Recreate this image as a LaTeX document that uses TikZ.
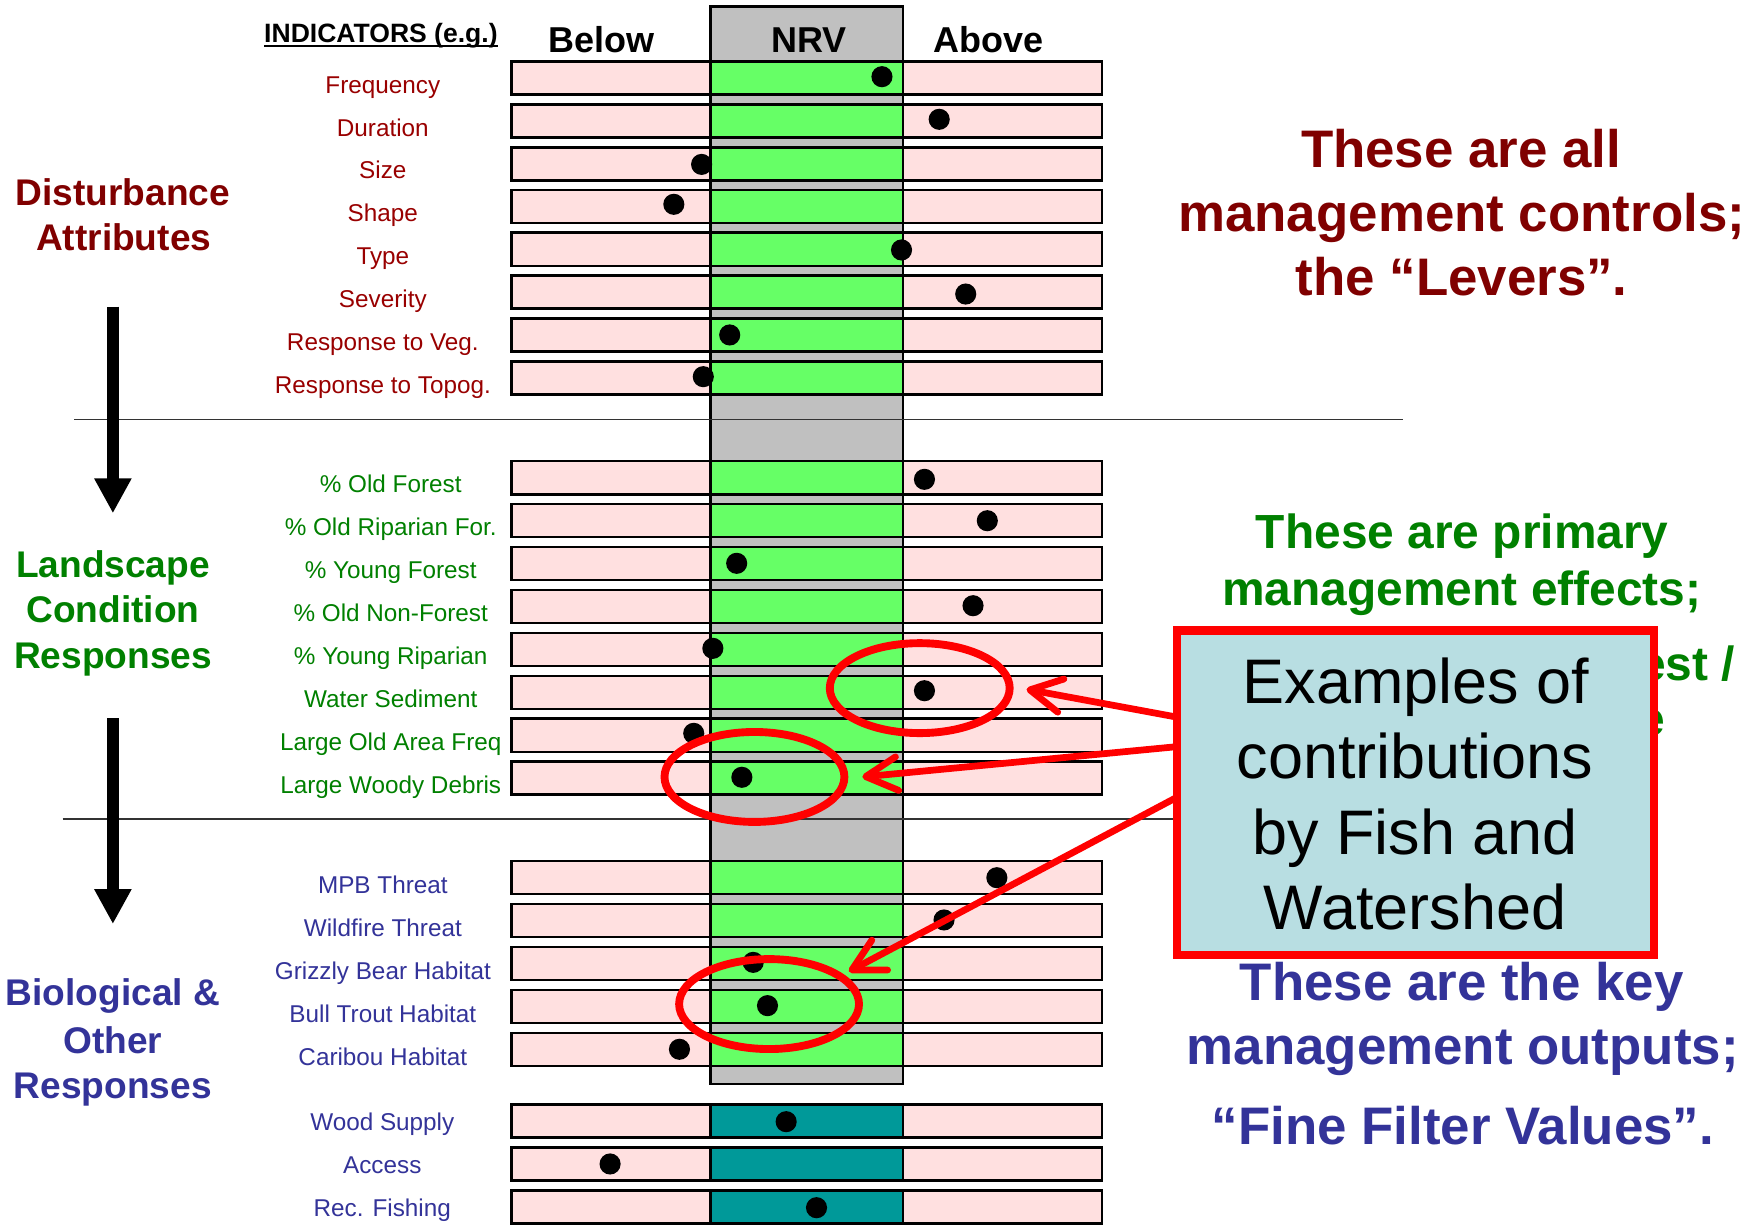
\documentclass[tikz,border=0pt]{standalone}
\usepackage{fontspec}
\setmainfont{Liberation Sans}
\usetikzlibrary{arrows.meta,calc,shapes.geometric}
\definecolor{barpink}{HTML}{FFE0E0}
\definecolor{nrvgreen}{HTML}{66FF66}
\definecolor{nrvgray}{HTML}{C0C0C0}
\definecolor{nrvteal}{HTML}{009999}
\definecolor{darkred}{HTML}{800000}
\definecolor{lblred}{HTML}{990000}
\definecolor{dgreen}{HTML}{008000}
\definecolor{dblue}{HTML}{333399}
\definecolor{calloutfill}{HTML}{B8DEE2}
\definecolor{callred}{HTML}{FF0000}

\begin{document}
\begin{tikzpicture}[x=0.5pt,y=-0.5pt,
  every node/.style={inner sep=0pt, outer sep=0pt, text depth=0pt},
  rowlbl/.style={font=\fontsize{10.8}{13}\selectfont, text height=7.6pt},
  colhead/.style={font=\fontsize{16}{19}\selectfont\bfseries, text height=11.3pt},
  indhead/.style={font=\fontsize{11.8}{14}\selectfont\bfseries, text height=8.3pt},
  secttitle/.style={font=\fontsize{16.5}{20}\selectfont\bfseries, text height=11.7pt},
  note/.style={font=\fontsize{23.5}{28}\selectfont\bfseries, text height=16.6pt},
  notesmall/.style={font=\fontsize{21.3}{25}\selectfont\bfseries, text height=15.1pt},
  calltext/.style={font=\fontsize{28}{34}\selectfont, text height=19.8pt},
  bar/.style={draw=black, line width=1.2pt, fill=barpink},
  midcell/.style={draw=black, line width=1.2pt},
  sep/.style={draw=black!80, line width=0.8pt},
  flow/.style={line width=5.1pt, -{Triangle[length=15.5pt,width=15.5pt]}},
  hoop/.style={draw=callred, line width=3.5pt},
  pointer/.style={draw=callred, line width=3pt, line cap=round,
    -{Straight Barb[length=14pt,width=15pt,round]}},
]
% page frame
\fill[white] (0,0) rectangle (1568,1089);
\path[use as bounding box] (0,0) rectangle (1568,1089);

% NRV column
\draw[line width=1.2pt, fill=nrvgray] (632,5.5) rectangle (803,964);

% section separators
\coordinate (sepAl) at (66,373);   \coordinate (sepAr) at (1248,373);
\coordinate (sepBl) at (55.6,728.5); \coordinate (sepBr) at (1248,728.5);
\draw[sep] (sepAl) -- (sepAr);
\draw[sep] (sepBl) -- (sepBr);

% indicator bars
\foreach \i in {0,...,7}{
  \pgfmathsetmacro{\c}{69.4+38.09*\i}
  \draw[bar] (455,{\c-14.7}) rectangle (980,{\c+14.7});
  \draw[midcell, fill=nrvgreen] (632,{\c-14.7}) rectangle (803,{\c+14.7});
}
\foreach \i in {0,...,7}{
  \pgfmathsetmacro{\c}{424.8+38.2*\i}
  \draw[bar] (455,{\c-14.7}) rectangle (980,{\c+14.7});
  \draw[midcell, fill=nrvgreen] (632,{\c-14.7}) rectangle (803,{\c+14.7});
}
\foreach \i in {0,...,4}{
  \pgfmathsetmacro{\c}{780.5+38.2*\i}
  \draw[bar] (455,{\c-14.7}) rectangle (980,{\c+14.7});
  \draw[midcell, fill=nrvgreen] (632,{\c-14.7}) rectangle (803,{\c+14.7});
}
\foreach \i in {0,...,2}{
  \pgfmathsetmacro{\c}{997+38.2*\i}
  \draw[bar] (455,{\c-14.7}) rectangle (980,{\c+14.7});
  \draw[midcell, fill=nrvteal] (632,{\c-14.7}) rectangle (803,{\c+14.7});
}

% current positions
\foreach \p in {(784.4,68.2),(835.3,106.1),(624,146.2),(599.3,181.7),
                (801.8,222.3),(858.9,261.5),(649,297.9),(625.5,335),
                (822.2,426.3),(878.1,463.1),(655.2,501),(865.4,538.7),
                (634,576.6),(822.2,614.3),(617,652.2),(659.8,691.3),
                (886.6,780.6),(839.6,818.2),(669.9,855.9),(682.6,894.4),
                (604.3,933.2),(699.2,997.6),(542.6,1035.2),(726.2,1074.1)}
  \fill[black] \p circle[radius=4.7pt];

% column headings
\node[indhead] (ind) at (338.8,29.2) {INDICATORS (e.g.)};
\draw[line width=0.9pt] ([yshift=-1.7pt]ind.south west) -- ([yshift=-1.7pt]ind.south east);
\node[colhead] (below) at (535,35) {Below};
\node[colhead] (nrv) at (719.5,35) {NRV};
\node[colhead] (above) at (879.4,35) {Above};

% indicator names
\foreach \t [count=\i from 0] in {Frequency, Duration, Size, Shape, Type,
    Severity, Response to Veg., Response to Topog.}
  \node[rowlbl, text=lblred] (da\i) at (340.5,{75.4+38.09*\i}) {\t};
\foreach \t [count=\i from 0] in {\% Old Forest, \% Old Riparian For.,
    \% Young Forest, \% Old Non-Forest, \% Young Riparian, Water Sediment,
    Large Old Area Freq, Large Woody Debris}
  \node[rowlbl, text=dgreen] (lc\i) at (347.5,{430.8+38.2*\i}) {\t};
\foreach \t [count=\i from 0] in {MPB Threat, Wildfire Threat,
    Grizzly Bear Habitat, Bull Trout Habitat, Caribou Habitat}
  \node[rowlbl, text=dblue] (bo\i) at (340.5,{786.8+38.2*\i}) {\t};
\foreach \t [count=\i from 0] in {Wood Supply, Access, Rec. Fishing}
  \node[rowlbl, text=dblue] (ot\i) at (340,{998+38.2*\i}) {\t};

% section titles
\node[secttitle, text=darkred] (dis1) at (109.3,171) {Disturbance};
\node[secttitle, text=darkred] (dis2) at (110,211) {Attributes};
\node[secttitle, text=dgreen] (lan1) at (100.5,502) {Landscape};
\node[secttitle, text=dgreen] (lan2) at (100.5,542) {Condition};
\node[secttitle, text=dgreen] (lan3) at (100.5,582.5) {Responses};
\node[secttitle, text=dblue] (bio1) at (100.4,883) {Biological \&};
\node[secttitle, text=dblue] (bio2) at (100.4,925) {Other};
\node[secttitle, text=dblue] (bio3) at (100.4,965) {Responses};

% flow arrows between sections
\coordinate (f1s) at (100.4,272.7); \coordinate (f1e) at (100.4,456.5);
\coordinate (f2s) at (100.4,638.9); \coordinate (f2e) at (100.4,821.8);
\draw[flow] (f1s) -- (f1e);
\draw[flow] (f2s) -- (f2e);

% notes on the right
\node[note, text=darkred] (lev1) at (1299.5,132) {These are all};
\node[note, text=darkred] (lev2) at (1300,189.5) {management controls;};
\node[note, text=darkred] (lev3) at (1300,246.5) {the “Levers”.};
\node[notesmall, text=dgreen] (eff1) at (1300.5,472.5) {These are primary};
\node[notesmall, text=dgreen] (eff2) at (1300.2,523.2) {management effects;};
\node[notesmall, text=dgreen, anchor=east] (eff3) at (1543,590) {est /};
\node[notesmall, text=dgreen, anchor=east] (eff4) at (1481,639) {e};
\node[note, text=dblue] (out1) at (1300,873.5) {These are the key};
\node[note, text=dblue] (out2) at (1301,930.5) {management outputs;};
\node[note, text=dblue] (out3) at (1301,1001) {“Fine Filter Values”.};

% highlighted indicators
\node[hoop, ellipse, minimum width=80pt, minimum height=40pt] (ringA) at (818,612) {};
\node[hoop, ellipse, minimum width=80pt, minimum height=40pt] (ringB) at (671,691) {};
\node[hoop, ellipse, minimum width=80pt, minimum height=40pt] (ringC) at (684,893) {};

% callout
\node[draw=callred, fill=calloutfill, line width=3.8pt,
      minimum width=212.2pt, minimum height=144.2pt] (callout) at (1259,705) {};
\coordinate (tipA) at (913,613);
\coordinate (tipB) at (767,691);
\coordinate (tipC) at (755,864);
\draw[pointer] ($(callout.north west)!0.267!(callout.south west)$) -- (tipA);
\draw[pointer] ($(callout.north west)!0.358!(callout.south west)$) -- (tipB);
\draw[pointer] ($(callout.north west)!0.514!(callout.south west)$) -- (tipC);
\node[calltext] (ct1) at (1259.2,606) {Examples of};
\node[calltext] (ct2) at (1258.5,673) {contributions};
\node[calltext] (ct3) at (1258.5,740) {by Fish and};
\node[calltext] (ct4) at (1258.5,807) {Watershed};
\end{tikzpicture}
\end{document}
